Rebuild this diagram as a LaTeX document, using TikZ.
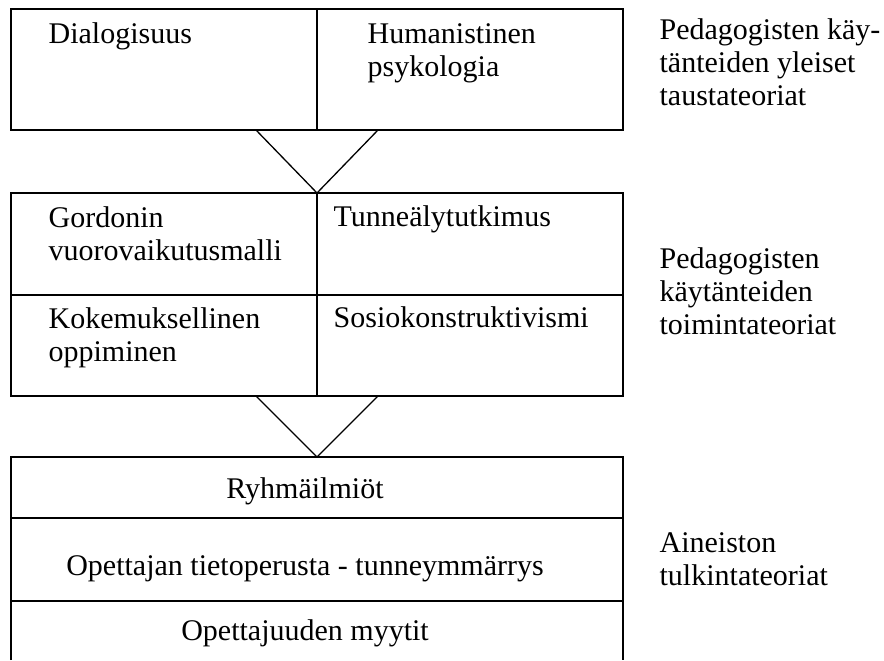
\documentclass[tikz,border=0pt]{standalone}
\usepackage{fontspec}
\setmainfont{Liberation Serif}

\tikzset{
  celltext/.style = {anchor=base west, inner sep=0pt, align=left, font=\fontsize{15}{16.5}\selectfont},
  rowtext/.style = {anchor=base, inner sep=0pt, font=\fontsize{15}{16.5}\selectfont},
}

\begin{document}
\begin{tikzpicture}[x=0.5pt, y=-0.5pt, line width=0.65pt]
			\def\l{11}
			\def\r{623}
			\def\m{317}

			\useasboundingbox (0,0) rectangle (884,660);

			\begin{scope}
				\draw (\l,9) rectangle (\r,130);
				\draw (\m,9) -- (\m,130);

				\draw (\l,193) rectangle (\r,396);
				\draw (\m,193) -- (\m,396);
				\draw (\l,295) -- (\r,295);

				\draw (\l,660) -- (\l,457) -- (\r,457) -- (\r,660);
				\draw (\l,518) -- (\r,518);
				\draw (\l,601) -- (\r,601);
			\end{scope}

			\begin{scope}
				\coordinate (t1a) at (256,130);
				\coordinate (t1b) at (\m,193);
				\coordinate (t1c) at (378,130);
				\draw (t1a) -- (t1b) -- (t1c);

				\coordinate (t2a) at (256,396);
				\coordinate (t2b) at (\m,457);
				\coordinate (t2c) at (378,396);
				\draw (t2a) -- (t2b) -- (t2c);
			\end{scope}

			\node[celltext] (dialog) at (48,43) {Dialogisuus};
			\node[celltext] (human) at (367,76) {Humanistinen\\psykologia};
			\node[celltext] (gordon) at (48,260) {Gordonin\\vuorovaikutusmalli};
			\node[celltext] (tunne) at (333,226) {Tunneälytutkimus};
			\node[celltext] (kokem) at (48,361) {Kokemuksellinen\\oppiminen};
			\node[celltext] (sosio) at (333,327) {Sosiokonstruktivismi};

			\node[rowtext] (ryhma) at (305,498) {Ryhmäilmiöt};
			\node[rowtext] (tieto) at (305,575) {Opettajan tietoperusta - tunneymmärrys};
			\node[rowtext] (myytit) at (305,640) {Opettajuuden myytit};

			\node[celltext] (tausta) at (659,105) {Pedagogisten käy-\\tänteiden yleiset\\taustateoriat};
			\node[celltext] (toiminta) at (659,334) {Pedagogisten\\käytänteiden\\toimintateoriat};
			\node[celltext] (tulkinta) at (659,585) {Aineiston\\tulkintateoriat};
\end{tikzpicture}
\end{document}
